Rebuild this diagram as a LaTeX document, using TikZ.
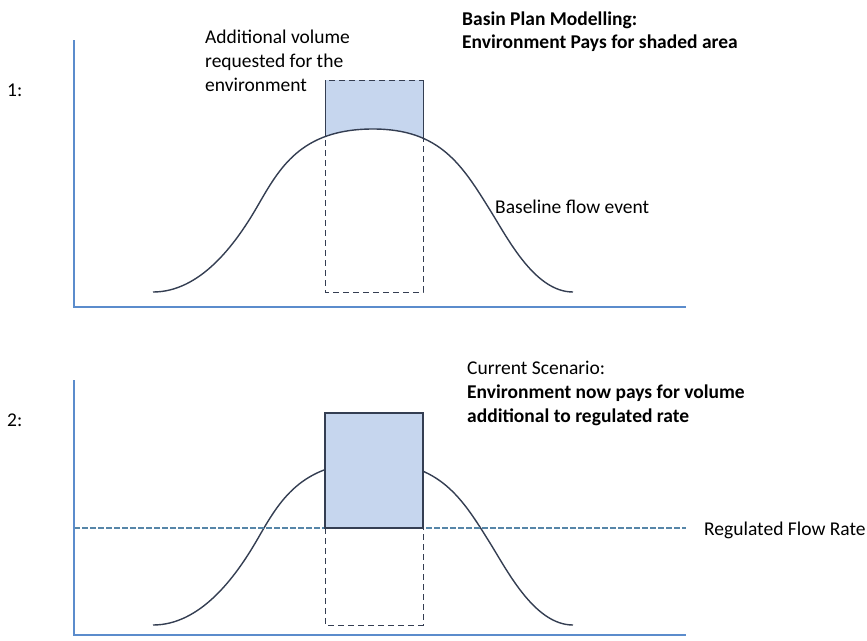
\documentclass[tikz,border=0pt]{standalone}
\usepackage{fontspec}
\setmainfont{Carlito}
\usetikzlibrary{positioning}
\definecolor{axisblue}{RGB}{91,140,204}
\definecolor{shadeblue}{RGB}{198,214,238}
\definecolor{curvegray}{RGB}{52,62,82}
\definecolor{rateblue}{RGB}{86,134,168}

\begin{document}
\begin{tikzpicture}[x=1pt,y=-1pt,
	axis/.style={draw=axisblue,line width=1.8pt},
	flow/.style={draw=curvegray,line width=1.4pt},
	request/.style={draw=curvegray,line width=1pt,dash pattern=on 6pt off 4pt},
	label/.style={inner sep=0pt,anchor=west,align=left,font=\fontsize{19.5}{24}\selectfont},
	title/.style={label,font=\bfseries\fontsize{19.5}{23}\selectfont}]

	\useasboundingbox (0,0) rectangle (867,640);

	% panel 1
	\node[label] (num1) at (7,90) {1:};
	\fill[shadeblue] (325,80) rectangle (423,145);
	\fill[white] (257,207) .. controls (279,169) and (300,129) .. (373,129) .. controls (440,129) and (462,165) .. (490,210) -- cycle;
	\draw[curvegray,line width=1pt] (325,136) -- (325,80) (423,136) -- (423,80);
	\draw[flow] (153,292) .. controls (200,292) and (235,245) .. (257,207)
		.. controls (279,169) and (300,129) .. (373,129)
		.. controls (440,129) and (462,165) .. (490,210)
		.. controls (508,239) and (535,292) .. (573,292);
	\draw[request] (325,80) rectangle (423,292);
	\draw[axis] (74,40) -- (74,307) -- (686,307);
	\node[label] (extra) at (205,61) {Additional volume\\requested for the\\environment};
	\node[title] (basin) at (462,32) {Basin Plan Modelling:\\Environment Pays for shaded area};
	\node[label] (baseline) at (495,207) {Baseline flow event};

	% panel 2
	\node[label] (num2) at (7,420) {2:};
	\draw[flow] (153,625) .. controls (200,625) and (235,578) .. (257,540)
		.. controls (279,502) and (300,462) .. (373,462)
		.. controls (440,462) and (462,498) .. (490,543)
		.. controls (508,572) and (535,625) .. (573,625);
	\draw[rateblue,line width=1.1pt,dash pattern=on 6pt off 2pt] (74,528) -- (686,528);
	\fill[shadeblue,draw=curvegray,line width=1.1pt] (325,413) rectangle (423,528);
	\draw[request] (325,528) -- (325,625) -- (423,625) -- (423,528);
	\draw[axis] (74,380) -- (74,635) -- (686,635);
	\node[label] (current) at (467,393) {Current Scenario:\\\textbf{Environment now pays for volume}\\\textbf{additional to regulated rate}};
	\node[label] (rate) at (704,530) {Regulated Flow Rate};

\end{tikzpicture}
\end{document}
